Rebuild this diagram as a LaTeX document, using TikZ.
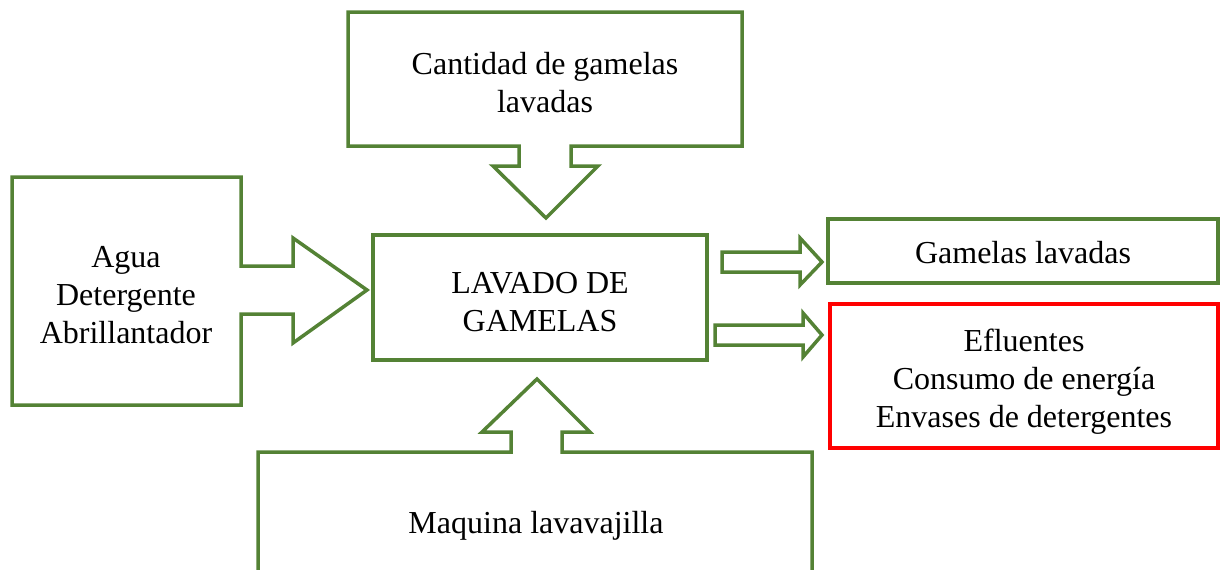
\documentclass[tikz,border=0pt]{standalone}
\usepackage{fontspec}
\setmainfont{Liberation Serif}
\usepackage{tikz}
\usetikzlibrary{positioning}
\definecolor{boxgreen}{HTML}{548235}
\definecolor{boxred}{HTML}{FF0000}
\tikzset{x=0.5pt,y=-0.5pt,
  txt/.style={align=center,inner sep=0pt,font=\fontsize{16}{19}\selectfont},
  greenline/.style={draw=boxgreen,line width=1.75pt,line join=miter},
  redline/.style={draw=boxred,line width=1.6pt},
  box/.style={txt,greenline,minimum width=167pt,minimum height=62.5pt}}

\begin{document}
\begin{tikzpicture}
              \useasboundingbox (0,0) rectangle (1220,569);

              % proceso central
              \draw[greenline] (373,235) rectangle (707,360);
              \node[txt] (lav) at (540,302) {LAVADO DE\\GAMELAS};

              % entradas
              \draw[greenline] (348,12) -- (742,12) -- (742,146) -- (571,146)
                -- (571,166) -- (598,166) -- (546,218) -- (493,166) -- (519,166)
                -- (519,146) -- (348,146) -- cycle;
              \node[txt] (cant) at (545,83) {Cantidad de gamelas\\lavadas};

              \draw[greenline] (12,177) -- (241,177) -- (241,266) -- (293,266)
                -- (293,238) -- (367,290) -- (293,343) -- (293,314) -- (241,314)
                -- (241,405) -- (12,405) -- cycle;
              \node[txt] (ins) at (126,295) {Agua\\Detergente\\Abrillantador};

              \draw[greenline] (258,590) -- (258,452) -- (511,452) -- (511,432)
                -- (482,432) -- (537,379) -- (590,432) -- (562,432) -- (562,452)
                -- (812,452) -- (812,590);
              \node[txt] (maq) at (536,526) {Maquina lavavajilla};

              % salidas
              \draw[greenline] (828,219) rectangle (1218,283);
              \node[txt] (gam) at (1023,253) {Gamelas lavadas};
              \draw[redline] (830,304) rectangle (1218,448);
              \node[txt] (efl) at (1024,382)
                {Efluentes\\Consumo de energía\\Envases de detergentes};

              \draw[greenline] (722,252) -- (800,252) -- (800,238) -- (822,262)
                -- (800,285) -- (800,272) -- (722,272) -- cycle;
              \draw[greenline] (715,325) -- (803,325) -- (803,313) -- (822,335)
                -- (803,357) -- (803,345) -- (715,345) -- cycle;
            \end{tikzpicture}
\end{document}
